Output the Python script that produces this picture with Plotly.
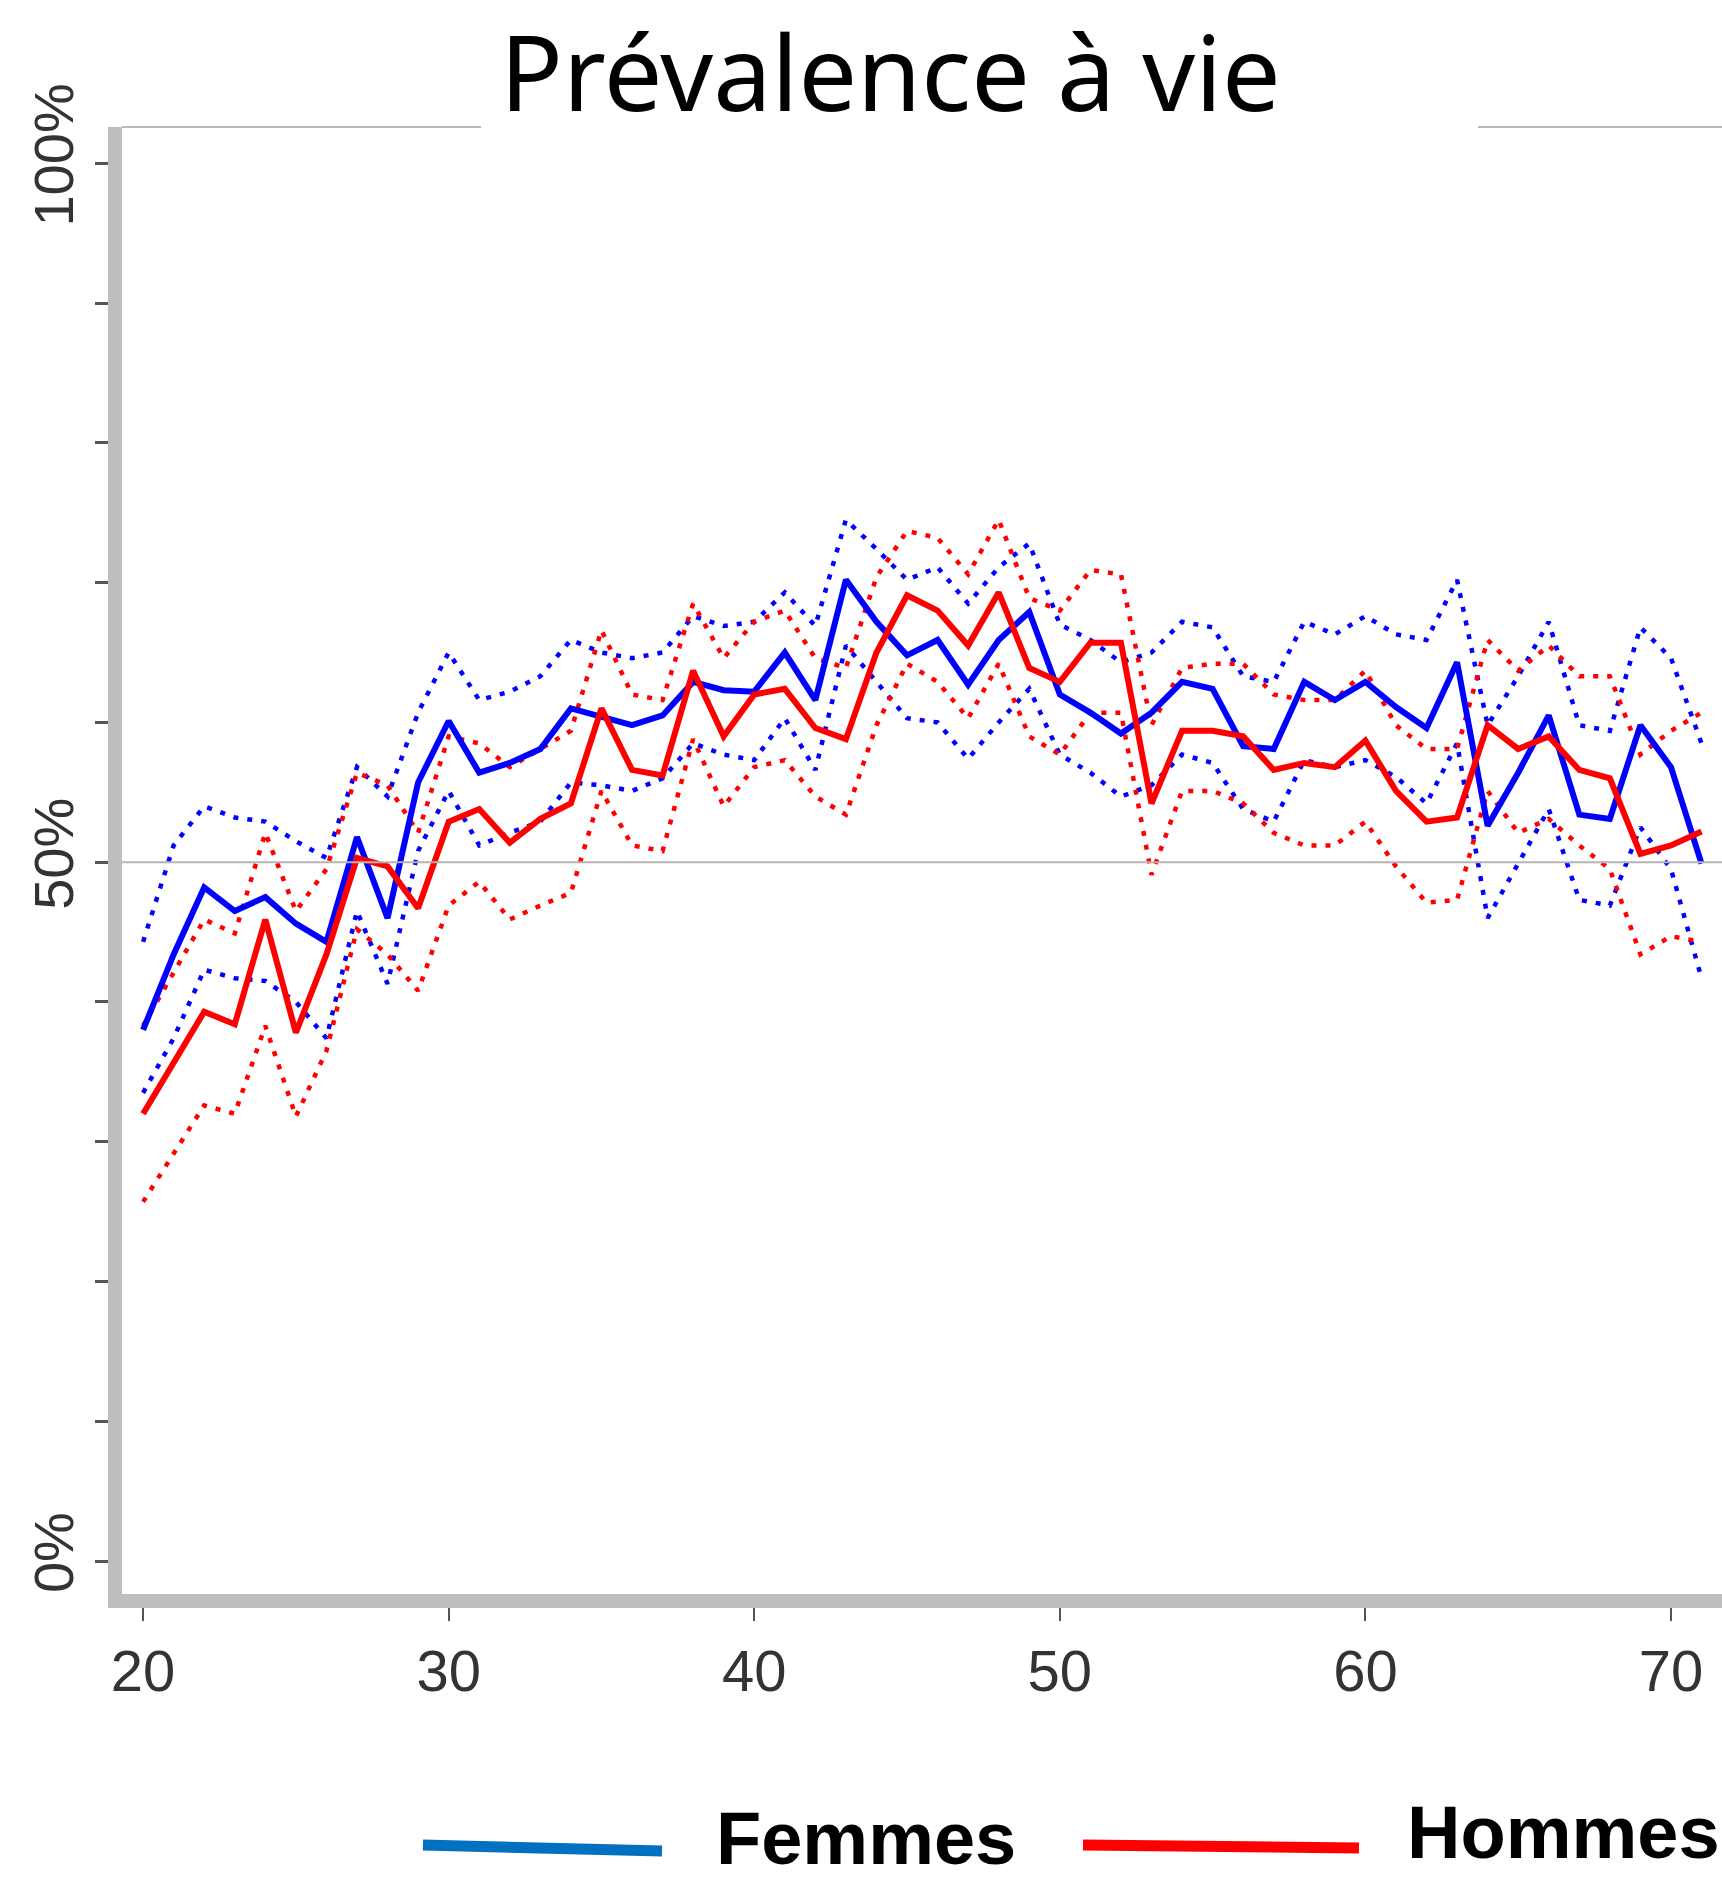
import plotly.graph_objects as go

# ---------------- data ----------------
ages = list(range(20, 72))

femmes = [38.0, 43.4, 48.2, 46.5, 47.5, 45.6, 44.3, 51.8, 46.0, 55.7,
          60.1, 56.4, 57.1, 58.1, 61.0, 60.4, 59.8, 60.5, 62.9, 62.3,
          62.2, 65.0, 61.6, 70.2, 67.2, 64.8, 65.9, 62.7, 65.9, 67.9,
          62.0, 60.7, 59.2, 60.7, 62.9, 62.4, 58.3, 58.1, 62.9, 61.6,
          62.9, 61.1, 59.6, 64.3, 52.6, 56.4, 60.5, 53.4, 53.1, 59.8,
          56.8, 49.9]
femmes_hi = [44.3, 51.2, 54.0, 53.2, 52.9, 51.5, 50.3, 56.8, 54.7, 60.7,
             65.0, 61.6, 62.2, 63.3, 65.9, 65.0, 64.6, 65.0, 67.6, 66.9,
             67.2, 69.3, 66.9, 74.5, 72.4, 70.2, 71.1, 68.5, 71.1, 72.8,
             67.0, 65.9, 64.3, 65.0, 67.2, 66.8, 63.3, 62.9, 67.2, 66.3,
             67.6, 66.3, 65.9, 70.2, 59.8, 63.3, 67.2, 59.8, 59.4, 66.8,
             64.6, 58.5]
femmes_lo = [33.5, 37.4, 42.3, 41.7, 41.5, 40.0, 37.4, 46.5, 41.3, 50.8,
             55.1, 51.2, 52.1, 52.9, 55.7, 55.5, 55.1, 56.0, 58.5, 57.7,
             57.3, 60.3, 56.6, 65.5, 62.9, 60.3, 60.0, 57.4, 60.0, 62.4,
             57.7, 56.4, 54.7, 55.5, 57.7, 57.1, 53.8, 52.9, 57.3, 56.8,
             57.3, 56.1, 54.2, 58.5, 46.0, 49.9, 53.8, 47.3, 46.9, 52.5,
             49.5, 41.7]

hommes = [32.0, 35.7, 39.3, 38.4, 45.9, 37.8, 43.4, 50.3, 49.7, 46.7,
          52.9, 53.8, 51.4, 53.1, 54.2, 61.0, 56.6, 56.2, 63.7, 59.0,
          62.0, 62.4, 59.6, 58.8, 65.0, 69.1, 68.0, 65.5, 69.3, 63.9,
          62.9, 65.7, 65.7, 54.2, 59.4, 59.4, 59.0, 56.6, 57.1, 56.8,
          58.7, 55.1, 52.9, 53.2, 59.8, 58.1, 59.0, 56.6, 56.0, 50.6,
          51.2, 52.2]
hommes_hi = [38.3, 42.1, 45.9, 44.9, 52.1, 46.5, 49.5, 56.4, 55.5, 52.1,
             59.0, 58.5, 56.8, 58.1, 59.4, 66.6, 62.0, 61.6, 68.5, 64.6,
             67.2, 68.0, 64.6, 63.9, 70.4, 73.7, 73.2, 70.6, 74.5, 68.9,
             68.0, 70.9, 70.6, 59.8, 63.9, 64.2, 64.2, 62.0, 61.6, 61.6,
             63.7, 59.8, 58.1, 58.1, 65.9, 63.7, 65.5, 63.3, 63.3, 57.7,
             59.4, 60.7]
hommes_lo = [25.7, 29.2, 32.6, 32.0, 38.3, 31.8, 36.5, 45.2, 43.4, 40.8,
             46.9, 48.6, 45.9, 46.9, 47.8, 55.1, 51.2, 50.8, 58.8, 54.0,
             56.8, 57.3, 54.7, 53.4, 59.8, 64.2, 62.9, 60.3, 64.2, 59.0,
             57.7, 60.7, 60.7, 49.1, 55.1, 55.1, 54.2, 52.1, 51.2, 51.2,
             52.9, 49.7, 47.1, 47.3, 55.1, 52.1, 53.1, 51.2, 49.5, 43.4,
             44.7, 44.3]

title = "Prévalence à vie"
series_names = ["Femmes", "Hommes"]
x_ticks = [20, 30, 40, 50, 60, 70]
y_ticks = [0, 10, 20, 30, 40, 50, 60, 70, 80, 90, 100]
y_labels = {0: "0%", 50: "50%", 100: "100%"}

# ---------------- layout geometry ----------------
W, H = 1722, 1894
L, R, T, B = 122, 0, 127, 300
PW, PH = W - L - R, H - T - B


def px(x):
    return (x - L) / PW


def py(y):
    return (H - B - y) / PH


BLUE, RED = "#0000ff", "#ff0000"
DOT = "5px,9px"

fig = go.Figure()
for lo, hi, col in [(femmes_lo, femmes_hi, BLUE), (hommes_lo, hommes_hi, RED)]:
    for s in (lo, hi):
        fig.add_trace(go.Scatter(x=ages, y=s, mode="lines",
                                 line=dict(color=col, width=4.5, dash=DOT),
                                 showlegend=False, hoverinfo="skip"))
fig.add_trace(go.Scatter(x=ages, y=femmes, mode="lines", name=series_names[0],
                         line=dict(color=BLUE, width=6), showlegend=False))
fig.add_trace(go.Scatter(x=ages, y=hommes, mode="lines", name=series_names[1],
                         line=dict(color=RED, width=6), showlegend=False))

AXC = "#bebebe"
fig.update_xaxes(range=[19.31, 71.67], showgrid=False, zeroline=False,
                 showline=True, linewidth=14, linecolor=AXC,
                 tickvals=x_ticks, ticks="outside", ticklen=13, tickwidth=2,
                 tickcolor="#555555", ticklabelstandoff=0,
                 tickfont=dict(family="Liberation Sans, Arial",
                               size=58, color="#333333"))
fig.update_yaxes(range=[-2.36, 102.6], showgrid=False, zeroline=False,
                 showline=True, linewidth=14, linecolor=AXC,
                 tickvals=y_ticks, ticktext=[y_labels.get(v, "") for v in y_ticks],
                 ticks="outside", ticklen=13, tickwidth=3, tickcolor="#555555",
                 tickangle=-90, ticklabelstandoff=0,
                 tickfont=dict(family="Liberation Sans, Arial", size=56, color="#333333"))

shapes = [
    # 50% reference line
    dict(type="line", xref="paper", yref="y", x0=0, x1=1, y0=50, y1=50,
         line=dict(color="#b4b4b4", width=2)),
    # top border, interrupted by the title
    dict(type="line", xref="paper", yref="paper", x0=0, x1=px(481), y0=1, y1=1,
         line=dict(color="#b8b8b8", width=2)),
    dict(type="line", xref="paper", yref="paper", x0=px(1478), x1=1, y0=1, y1=1,
         line=dict(color="#b8b8b8", width=2)),
    # legend keys
    dict(type="line", xref="paper", yref="paper", x0=px(423), x1=px(662),
         y0=py(1845), y1=py(1851), line=dict(color="#0070c0", width=11)),
    dict(type="line", xref="paper", yref="paper", x0=px(1083), x1=px(1359),
         y0=py(1845), y1=py(1848), line=dict(color="#ff0000", width=11)),
]

annotations = [
    dict(text=title, xref="paper", yref="paper", x=px(890), y=py(71),
         xanchor="center", yanchor="middle", showarrow=False,
         font=dict(family="Noto Sans", size=104, color="#000000")),
    dict(text="<b>%s</b>" % series_names[0], xref="paper", yref="paper",
         x=px(714), y=py(1838), xanchor="left", yanchor="middle", showarrow=False,
         font=dict(family="Liberation Sans, Arial", size=74, color="#000000")),
    dict(text="<b>%s</b>" % series_names[1], xref="paper", yref="paper",
         x=px(1405), y=py(1832), xanchor="left", yanchor="middle", showarrow=False,
         font=dict(family="Liberation Sans, Arial", size=74, color="#000000")),
]

fig.update_layout(width=W, height=H, margin=dict(l=L, r=R, t=T, b=B),
                  paper_bgcolor="white", plot_bgcolor="white",
                  shapes=shapes, annotations=annotations, showlegend=False)

fig.write_html("out.html")
